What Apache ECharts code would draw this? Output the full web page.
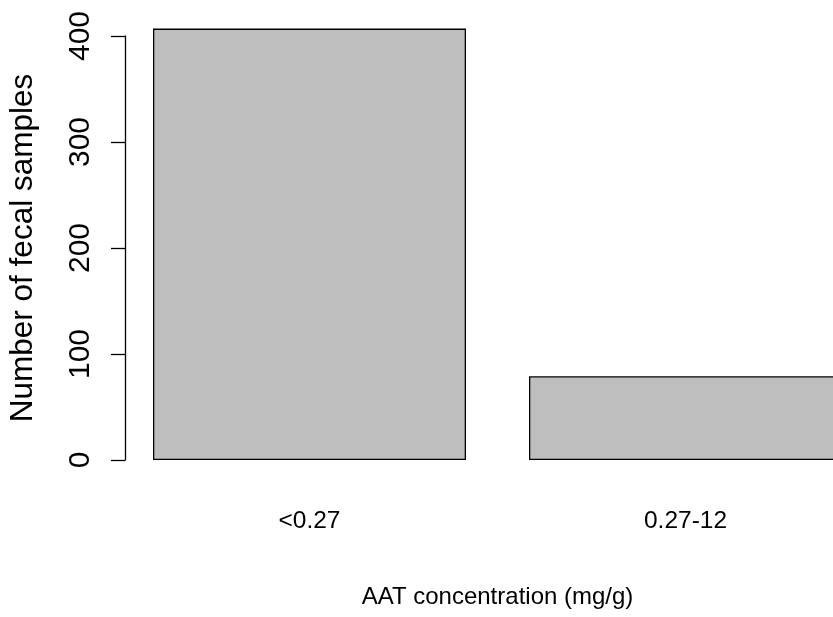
<!DOCTYPE html>
<html>
<head>
<meta charset="utf-8">
<script src="https://cdn.jsdelivr.net/npm/echarts@6/dist/echarts.min.js"></script>
<style>
  html, body { margin: 0; padding: 0; background: #fff; }
  #chart { width: 833px; height: 617px; }
</style>
</head>
<body>
<div id="chart"></div>
<script>
const categories = ["<0.27", "0.27-12"];
const sampleCounts = [407, 79];
const yTicks = [0, 100, 200, 300, 400];

const regular = "'Liberation Sans', Arial, sans-serif";

const chart = echarts.init(document.getElementById('chart'), null, { renderer: 'canvas' });
chart.setOption({
  backgroundColor: '#ffffff',
  animation: false,
  grid: { left: 121.5, top: 36, width: 752, height: 424, containLabel: false, outerBoundsMode: 'none' },
  xAxis: {
    type: 'category',
    data: categories,
    axisLine: { show: false },
    axisTick: { show: false },
    axisLabel: { margin: 49, fontSize: 24.5, fontFamily: regular, color: '#000' },
    name: 'AAT concentration (mg/g)',
    nameLocation: 'middle',
    nameGap: 125,
    nameTextStyle: { fontSize: 24, fontFamily: regular, color: '#000' }
  },
  yAxis: {
    type: 'value',
    min: yTicks[0],
    max: yTicks[yTicks.length - 1],
    interval: 100,
    offset: -3.5,
    splitLine: { show: false },
    axisLine: { show: true, lineStyle: { color: '#000', width: 1.3 } },
    axisTick: { show: true, length: 14, lineStyle: { color: '#000', width: 1.3 } },
    axisLabel: { rotate: 90, margin: 29, fontSize: 30, fontFamily: regular, color: '#000' },
    name: 'Number of fecal samples',
    nameLocation: 'middle',
    nameGap: 86,
    nameTextStyle: { fontSize: 31.5, fontFamily: regular, color: '#000' }
  },
  series: [{
    type: 'bar',
    data: sampleCounts,
    barWidth: 313,
    clip: false,
    itemStyle: { color: '#bebebe', borderColor: '#000', borderWidth: 1.3 }
  }]
});
</script>
</body>
</html>
